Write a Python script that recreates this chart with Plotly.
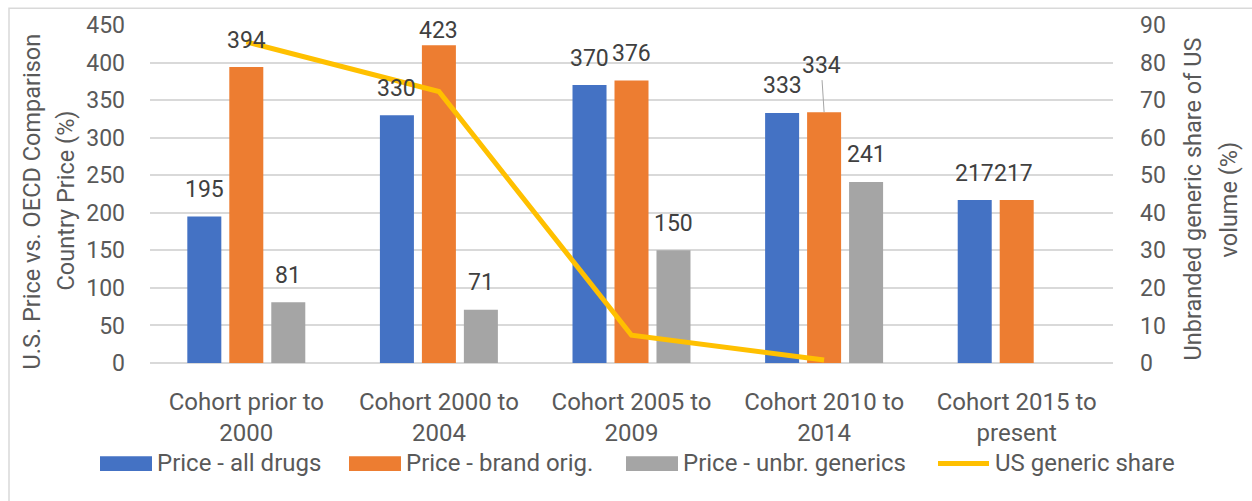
import plotly.graph_objects as go

# ---------------- data ----------------
categories = ["c1", "c2", "c3", "c4", "c5"]
tick_labels = [
    "Cohort prior to<br>2000",
    "Cohort 2000 to<br>2004",
    "Cohort 2005 to<br>2009",
    "Cohort 2010 to<br>2014",
    "Cohort 2015 to<br>present",
]
price_all = [195, 330, 370, 333, 217]
price_brand = [394, 423, 376, 334, 217]
price_generic = [81, 71, 150, 241, None]
generic_share = [85.5, 72.3, 7.4, 0.8, None]

series_names = ["Price - all drugs", "Price - brand orig.", "Price - unbr. generics"]
line_name = "US generic share"
y_left_title = ["U.S. Price vs. OECD Comparison", "Country Price (%)"]
y_right_title = ["Unbranded generic share of US", "volume (%)"]

# ---------------- style ----------------
FONT = "Roboto, 'Open Sans', sans-serif"
C_BLUE, C_ORANGE, C_GRAY, C_YELLOW = "#4472C4", "#ED7D31", "#A5A5A5", "#FFC000"
TXT = "#595959"
LBL = "#404040"
GRID = "#D9D9D9"

W, H = 1252, 501
ML, MR, MT, MB = 150, 139, 22, 138
PW, PH = W - ML - MR, H - MT - MB
BARGAP = 0.346
SLOT = PW / len(categories) * (1 - BARGAP) / 3  # px per bar slot


def px_x(px):
    return (px - ML) / PW


def px_y(py):
    return (H - MB - py) / PH


fig = go.Figure()
bar_colors = [C_BLUE, C_ORANGE, C_GRAY]
series = [price_all, price_brand, price_generic]
for vals, name, col in zip(series, series_names, bar_colors):
    fig.add_trace(go.Bar(x=categories, y=vals, name=name, marker_color=col,
                         marker_line_width=0, yaxis="y", showlegend=False))

fig.add_trace(go.Scatter(x=categories, y=generic_share, name=line_name, mode="lines",
                         line=dict(color=C_YELLOW, width=5), yaxis="y2",
                         connectgaps=False, showlegend=False))

# data labels
label_yshift = {(1, 1): 15}                        # clamped at plot top
label_xshift = {(1, 4): -3}
label_special = {(1, 3): dict(ay=-47, ax=-3)}      # moved label with leader line
for si, vals in enumerate(series):
    for ci, v in enumerate(vals):
        if v is None:
            continue
        xs = (si - 1) * SLOT + label_xshift.get((si, ci), 0)
        if (si, ci) in label_special:
            sp = label_special[(si, ci)]
            fig.add_annotation(x=categories[ci], y=v, xref="x", yref="y",
                               text=str(v), showarrow=True, arrowhead=0,
                               arrowwidth=1, arrowcolor="#A6A6A6", standoff=0,
                               ax=sp["ax"], ay=sp["ay"], xshift=xs,
                               font=dict(family=FONT, size=23, color=LBL))
        else:
            fig.add_annotation(x=categories[ci], y=v, xref="x", yref="y",
                               text=str(v), showarrow=False, xshift=xs,
                               yanchor="middle",
                               yshift=label_yshift.get((si, ci), 27),
                               font=dict(family=FONT, size=23, color=LBL))

# axis titles (two rotated lines each)
for txt, cx, cy in zip(y_left_title + y_right_title, [32, 66, 1193, 1229], [200, 199, 198, 198]):
    fig.add_annotation(xref="paper", yref="paper", x=px_x(cx), y=px_y(cy),
                       text=txt, textangle=-90, showarrow=False,
                       xanchor="center", yanchor="middle",
                       font=dict(family=FONT, size=23.5, color=TXT))

# legend (Excel style wide swatches)
leg_swatch_x = [100, 349, 626, 938]
leg_y = 464.5
for i, (name, col) in enumerate(zip(series_names + [line_name], bar_colors + [C_YELLOW])):
    x0 = leg_swatch_x[i]
    if i < 3:
        fig.add_shape(type="rect", xref="paper", yref="paper",
                      x0=px_x(x0), x1=px_x(x0 + 52),
                      y0=px_y(leg_y + 7.5), y1=px_y(leg_y - 7.5),
                      fillcolor=col, line_width=0)
    else:
        fig.add_shape(type="line", xref="paper", yref="paper",
                      x0=px_x(x0), x1=px_x(x0 + 51),
                      y0=px_y(leg_y), y1=px_y(leg_y),
                      line=dict(color=col, width=5))
    fig.add_annotation(xref="paper", yref="paper", x=px_x(x0 + 55), y=px_y(leg_y - 1),
                       text=name, showarrow=False, xanchor="left", yanchor="middle",
                       font=dict(family=FONT, size=24, color=TXT))

# chart border
fig.add_shape(type="rect", xref="paper", yref="paper",
              x0=px_x(9), x1=px_x(W + 20),
              y0=px_y(H + 20), y1=px_y(5),
              line=dict(color=GRID, width=1.5), fillcolor="rgba(0,0,0,0)", layer="below")

fig.update_layout(
    width=W, height=H,
    margin=dict(l=ML, r=MR, t=MT, b=MB, pad=0),
    paper_bgcolor="white", plot_bgcolor="white",
    barmode="group", bargap=BARGAP, bargroupgap=0.19,
    font=dict(family=FONT, size=22, color=TXT),
    showlegend=False,
    xaxis=dict(tickmode="array", tickvals=categories, ticktext=tick_labels,
               showgrid=False, showline=False, zeroline=False, ticks="",
               ticklabelstandoff=22, tickfont=dict(family=FONT, size=24, color=TXT)),
    yaxis=dict(range=[0, 450], dtick=50, tick0=0, showgrid=True, gridcolor=GRID,
               gridwidth=1.5, zeroline=True, zerolinecolor=GRID, zerolinewidth=1.5,
               showline=False, ticks="", ticklabelstandoff=24,
               tickfont=dict(family=FONT, size=23, color=TXT)),
    yaxis2=dict(range=[0, 90], dtick=10, tick0=0, overlaying="y", side="right",
                showgrid=False, zeroline=False, showline=False, ticks="",
                ticklabelstandoff=26, tickfont=dict(family=FONT, size=23, color=TXT)),
)

fig.write_html("out.html", config={"displayModeBar": False},
               post_script="document.body.style.margin='0';")
